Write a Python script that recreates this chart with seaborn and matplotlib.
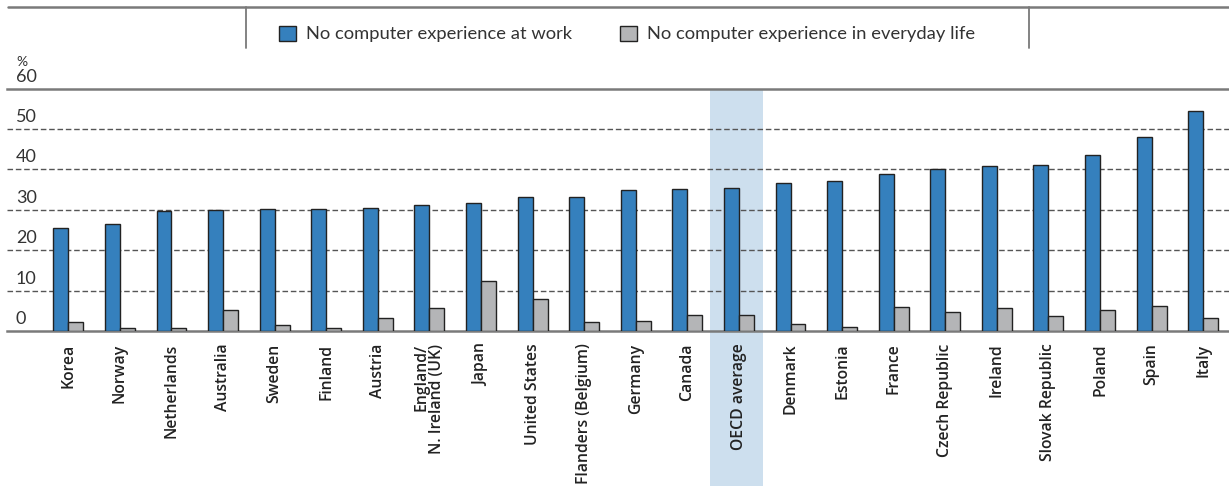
import matplotlib
matplotlib.use("Agg")
import matplotlib.pyplot as plt
from matplotlib.patches import Rectangle, Patch
import matplotlib.transforms as mtransforms
import seaborn as sns
import pandas as pd

countries = ["Korea", "Norway", "Netherlands", "Australia", "Sweden", "Finland",
             "Austria", "England/\nN. Ireland (UK)", "Japan", "United States",
             "Flanders (Belgium)", "Germany", "Canada", "OECD average", "Denmark",
             "Estonia", "France", "Czech Republic", "Ireland", "Slovak Republic",
             "Poland", "Spain", "Italy"]
no_computer_work = [25.4, 26.5, 29.6, 30.0, 30.1, 30.2, 30.4, 31.2, 31.7, 33.1,
                    33.3, 34.8, 35.2, 35.5, 36.6, 37.1, 39.0, 40.0, 40.8, 41.0,
                    43.5, 48.0, 54.4]
no_computer_life = [2.2, 0.7, 0.7, 5.1, 1.4, 0.7, 3.1, 5.6, 12.4, 7.9,
                    2.2, 2.4, 4.0, 3.9, 1.7, 1.1, 5.9, 4.8, 5.8, 3.6,
                    5.1, 6.2, 3.2]
series_names = ["No computer experience at work",
                "No computer experience in everyday life"]
y_ticks = [0, 10, 20, 30, 40, 50, 60]

BLUE = "#3580bd"
GREY = "#b4b5b7"
BAND = "#cddfee"
TEXT = "#333333"
RULE = "#7a7a7a"

df = pd.DataFrame({
    "country": countries * 2,
    "value": no_computer_work + no_computer_life,
    "series": [series_names[0]] * len(countries) + [series_names[1]] * len(countries),
})

sns.set_theme(style="white")
plt.rcParams["font.family"] = ["Lato", "DejaVu Sans"]

W, H = 1229, 486
fig = plt.figure(figsize=(W / 100, H / 100), dpi=100)
ax_left, ax_right, ax_bottom, ax_top = 7, 1229, 331, 88.7
ax = fig.add_axes([ax_left / W, 1 - ax_bottom / H,
                   (ax_right - ax_left) / W, (ax_bottom - ax_top) / H])

# highlight band behind the OECD average, running down through the labels
oecd_idx = countries.index("OECD average")
band_tr = mtransforms.blended_transform_factory(ax.transData, ax.transAxes)
ax.add_patch(Rectangle((oecd_idx - 0.56, -0.64), 1.02, 1.64, transform=band_tr,
                       facecolor=BAND, edgecolor="none", clip_on=False, zorder=0))

# dashed gridlines
for v in y_ticks[1:-1]:
    ax.axhline(v, color="#555555", lw=1.0, ls=(0, (4, 2)), zorder=1)

sns.barplot(data=df, x="country", y="value", hue="series",
            palette=[BLUE, GREY], width=0.58, edgecolor="#222222",
            linewidth=1.0, saturation=1, legend=False, ax=ax, zorder=3)

ax.set_xlim(-1.188, 22.5)
ax.set_ylim(0, 60)
ax.set_xlabel("")
ax.set_ylabel("")
ax.set_yticks([])
for s in ["left", "right"]:
    ax.spines[s].set_visible(False)
for s in ["top", "bottom"]:
    ax.spines[s].set_color(RULE)
    ax.spines[s].set_linewidth(1.8)
ax.patch.set_alpha(0)

ax.tick_params(axis="x", length=0, pad=9)
for lab in ax.get_xticklabels():
    lab.set_rotation(90)
    lab.set_family(["Open Sans", "DejaVu Sans"])
    lab.set_fontweight("semibold")
    lab.set_fontsize(11.3)
    lab.set_color("#222222")
    lab.set_ha("center")
    lab.set_va("top")
    lab.set_multialignment("right")
    lab.set_linespacing(1.0)

# y values written just above each gridline
ytr = mtransforms.blended_transform_factory(fig.transFigure, ax.transData)
for v in y_ticks:
    ax.text(16 / W, v + 1.0, str(v), transform=ytr, ha="left", va="bottom",
            fontsize=13, color=TEXT)
fig.text(16 / W, 1 - 68 / H, "%", ha="left", va="bottom", fontsize=10, color=TEXT)

# legend frame rules
fig.add_artist(plt.Line2D([8 / W, 1], [1 - 7.5 / H] * 2, color=RULE, lw=1.8))
for xp in (246, 1028.5):
    fig.add_artist(plt.Line2D([xp / W] * 2, [1 - 7.5 / H, 1 - 48 / H],
                              color=RULE, lw=1.3))

handles = [Patch(facecolor=BLUE, edgecolor="#222222", lw=1.0),
           Patch(facecolor=GREY, edgecolor="#222222", lw=1.0)]
fig.legend(handles, series_names, loc="center", ncol=2, frameon=False,
           bbox_to_anchor=(627 / W, 1 - 34 / H), fontsize=13.2,
           handlelength=0.95, handleheight=0.9, handletextpad=0.55,
           columnspacing=2.6, labelcolor=TEXT)

fig.savefig("out.png", dpi=100)
